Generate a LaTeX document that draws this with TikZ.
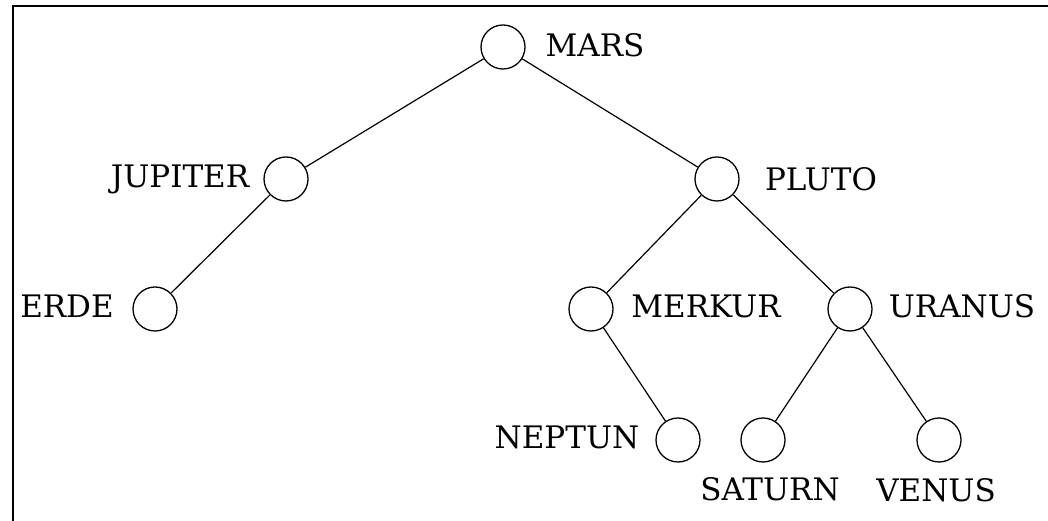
\documentclass[tikz,border=0pt]{standalone}
\usepackage{fontspec}
\setmainfont{DejaVu Serif}
\begin{document}
\begin{tikzpicture}[x=1pt,y=1pt,
  planet/.style={circle,draw,line width=1.3pt,minimum size=44pt,inner sep=0pt},
  lbl/.style={font=\fontsize{31}{36}\selectfont,inner sep=0pt},
  edge/.style={line width=1.2pt}]
\useasboundingbox (0,0) rectangle (1048,521);
\draw[line width=2.5pt] (13,0) -- (13,515) -- (1048,515);
\node[planet] (mars) at (503,474) {};
\node[planet] (jupiter) at (286,342) {};
\node[planet] (pluto) at (717,342) {};
\node[planet] (erde) at (155,212) {};
\node[planet] (merkur) at (591,212) {};
\node[planet] (uranus) at (850,212) {};
\node[planet] (neptun) at (678,81) {};
\node[planet] (saturn) at (763,81) {};
\node[planet] (venus) at (939,81) {};
\node[lbl] (lmars) at (595,476) {MARS};
\node[lbl] (ljupiter) at (180,342) {JUPITER};
\node[lbl] (lpluto) at (821,342) {PLUTO};
\node[lbl] (lerde) at (67,215) {ERDE};
\node[lbl] (lmerkur) at (706,215) {MERKUR};
\node[lbl] (luranus) at (962,215) {URANUS};
\node[lbl] (lneptun) at (567,84) {NEPTUN};
\node[lbl] (lsaturn) at (770,32) {SATURN};
\node[lbl] (lvenus) at (936,31) {VENUS};
\draw[edge] (mars) -- (jupiter);
\draw[edge] (mars) -- (pluto);
\draw[edge] (jupiter) -- (erde);
\draw[edge] (pluto) -- (merkur);
\draw[edge] (pluto) -- (uranus);
\draw[edge] (merkur) -- (neptun);
\draw[edge] (uranus) -- (saturn);
\draw[edge] (uranus) -- (venus);
\end{tikzpicture}
\end{document}
